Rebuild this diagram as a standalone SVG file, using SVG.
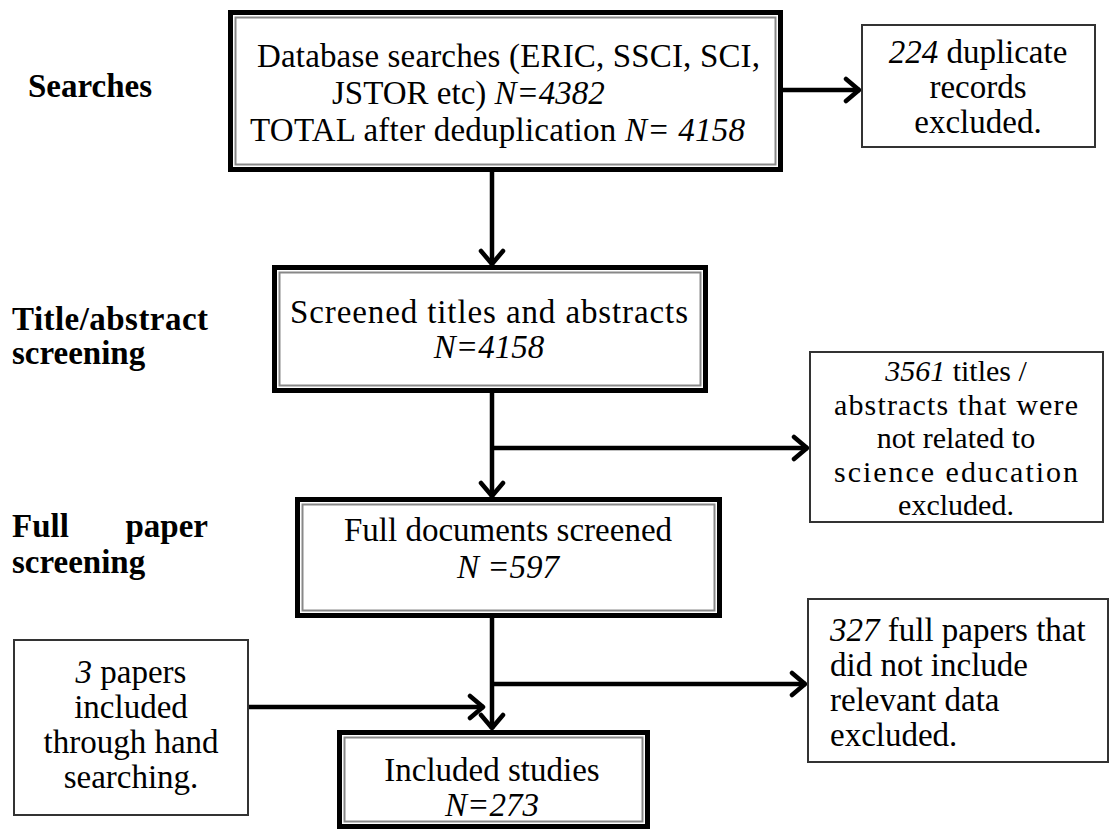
<svg xmlns="http://www.w3.org/2000/svg" width="1110" height="830" viewBox="0 0 1110 830">
<style>
text{font-family:"Liberation Serif","Times New Roman",serif;font-size:33px;fill:#000}
.lbl{font-weight:bold}
.c{text-anchor:middle}
.i{font-style:italic}
.sm{font-size:30px}
.outer{fill:#fff;stroke:#000;stroke-width:5}
.inner{fill:none;stroke:#888;stroke-width:2}
.thin{fill:#fff;stroke:#333;stroke-width:2}
.ln{fill:none;stroke:#000;stroke-width:4.5}
</style>
<defs>
<marker id="arr" viewBox="-18 -14 20 28" refX="0" refY="0" markerWidth="20" markerHeight="28" markerUnits="userSpaceOnUse" orient="auto">
<path d="M-14,-11 L-1,0 L-14,11" fill="none" stroke="#000" stroke-width="4.5" stroke-linecap="round" stroke-linejoin="round"/>
</marker>
</defs>

<g id="stage-labels">
<text class="lbl" x="28" y="97">Searches</text>
<text class="lbl" x="12" y="330" textLength="196" lengthAdjust="spacing">Title/abstract</text>
<text class="lbl" x="12" y="364">screening</text>
<text class="lbl" x="12" y="537">Full</text>
<text class="lbl" x="208" y="537" text-anchor="end">paper</text>
<text class="lbl" x="12" y="573">screening</text>
</g>

<g id="connectors">
<line class="ln" x1="783" y1="90" x2="860" y2="90" marker-end="url(#arr)"/>
<line class="ln" x1="492" y1="172" x2="492" y2="265" marker-end="url(#arr)"/>
<line class="ln" x1="492" y1="393" x2="492" y2="497" marker-end="url(#arr)"/>
<line class="ln" x1="492" y1="448" x2="808" y2="448" marker-end="url(#arr)"/>
<line class="ln" x1="492" y1="618" x2="492" y2="729" marker-end="url(#arr)"/>
<line class="ln" x1="492" y1="684" x2="806" y2="684" marker-end="url(#arr)"/>
<line class="ln" x1="248" y1="707" x2="484" y2="707" marker-end="url(#arr)"/>
</g>

<g id="node-database">
<rect class="outer" x="230.5" y="12.5" width="550" height="157"/>
<rect class="inner" x="235.5" y="17.5" width="540" height="147"/>
<text x="257" y="67" textLength="503" lengthAdjust="spacing">Database searches (ERIC, SSCI, SCI,</text>
<text x="332" y="104">JSTOR etc) <tspan class="i">N=4382</tspan></text>
<text x="250" y="141" textLength="495" lengthAdjust="spacing">TOTAL after deduplication <tspan class="i">N= 4158</tspan></text>
</g>

<g id="node-duplicates">
<rect class="thin" x="862" y="25" width="233" height="122"/>
<text class="c" x="978" y="63"><tspan class="i">224</tspan> duplicate</text>
<text class="c" x="978" y="98">records</text>
<text class="c" x="978" y="133">excluded.</text>
</g>

<g id="node-screened">
<rect class="outer" x="274.5" y="267.5" width="431" height="123"/>
<rect class="inner" x="279.5" y="272.5" width="421" height="113"/>
<text class="c" x="489" y="323" textLength="398" lengthAdjust="spacing">Screened titles and abstracts</text>
<text class="c i" x="489" y="358">N=4158</text>
</g>

<g id="node-excluded-titles">
<rect class="thin" x="810" y="352" width="293" height="170"/>
<text class="c sm" x="956" y="381"><tspan class="i">3561</tspan> titles /</text>
<text class="c sm" x="956" y="414.5" textLength="244" lengthAdjust="spacing">abstracts that were</text>
<text class="c sm" x="956" y="448">not related to</text>
<text class="c sm" x="956" y="481.5" textLength="244" lengthAdjust="spacing">science education</text>
<text class="c sm" x="956" y="515">excluded.</text>
</g>

<g id="node-full">
<rect class="outer" x="297.5" y="499.5" width="422" height="116"/>
<rect class="inner" x="302.5" y="504.5" width="412" height="106"/>
<text class="c" x="508" y="541">Full documents screened</text>
<text class="c i" x="508" y="578">N =597</text>
</g>

<g id="node-excluded-full">
<rect class="thin" x="808" y="599" width="300" height="163"/>
<text x="830" y="641"><tspan class="i">327</tspan> full papers that</text>
<text x="830" y="676">did not include</text>
<text x="830" y="711">relevant data</text>
<text x="830" y="746">excluded.</text>
</g>

<g id="node-hand">
<rect class="thin" x="14" y="640" width="234" height="175"/>
<text class="c" x="131" y="683"><tspan class="i">3</tspan> papers</text>
<text class="c" x="131" y="718">included</text>
<text class="c" x="131" y="753">through hand</text>
<text class="c" x="131" y="788">searching.</text>
</g>

<g id="node-included">
<rect class="outer" x="339.5" y="732.5" width="308" height="94"/>
<rect class="inner" x="344.5" y="737.5" width="298" height="84"/>
<text class="c" x="492" y="781">Included studies</text>
<text class="c i" x="492" y="816">N=273</text>
</g>
</svg>
